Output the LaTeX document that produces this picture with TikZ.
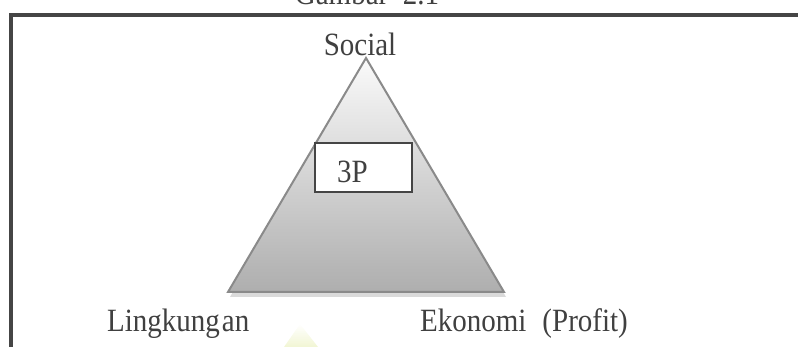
\documentclass[tikz,border=0pt]{standalone}
\usepackage{fontspec}
\usepackage{graphicx}
\setmainfont{Liberation Serif}
\definecolor{framec}{HTML}{454545}
\definecolor{txtc}{HTML}{404040}
\definecolor{edgec}{HTML}{8A8A8A}
\definecolor{shadc}{HTML}{DADADA}
\definecolor{topc}{HTML}{FAFAFA}
\definecolor{botc}{HTML}{AEAEAE}
\definecolor{wmark}{HTML}{EEF3C8}
\newcommand{\tallt}[1]{\scalebox{1}[1.12]{#1}}
\tikzset{
  lbl/.style={text=txtc, inner sep=0pt, font=\fontsize{29}{34}\selectfont},
  pbox/.style={draw=framec, line width=2pt, fill=white, minimum width=97pt, minimum height=49pt, inner sep=0pt},
  frameline/.style={draw=framec, line width=4pt, line join=miter},
}
\begin{document}
\begin{tikzpicture}[x=1pt,y=-1pt]
\useasboundingbox (0,0) rectangle (798,347);
\begin{scope}
\clip (0,0) rectangle (798,347);
% caption cut off at the top
\node[lbl, anchor=base] (cap) at (367,5) {\tallt{Gambar\hspace{0.5em}2.1}};
% faint watermark
\shade[top color=white, bottom color=wmark, opacity=0.8] (300,324) -- (318,347) -- (284,347) -- cycle;
% frame
\draw[frameline] (10.5,349) -- (10.5,15) -- (800,15);
\end{scope}
% triangle
\coordinate (apex) at (366,58);
\coordinate (bl) at (228,292);
\coordinate (br) at (504,292);
\fill[shadc] ([shift={(2,5)}]apex) -- ([shift={(2,5)}]bl) -- ([shift={(2,5)}]br) -- cycle;
\shade[top color=topc, bottom color=botc] (apex) -- (bl) -- (br) -- cycle;
\draw[edgec, line width=2pt, line join=miter] (apex) -- (bl) -- (br) -- cycle;
% box
\node[pbox] (box) at (363.5,168) {};
\node[lbl, anchor=base] (p3) at (352.5,183) {\tallt{3P}};
% labels
\node[lbl, anchor=base] (social) at (360,56) {\tallt{Social}};
\node[lbl, anchor=base west] (ling) at (107,332) {\tallt{Lingkung\hspace{2pt}an}};
\node[lbl, anchor=base west] (eko) at (420,332) {\tallt{Ekonomi\hspace{0.55em}(Profit)}};
\end{tikzpicture}
\end{document}
